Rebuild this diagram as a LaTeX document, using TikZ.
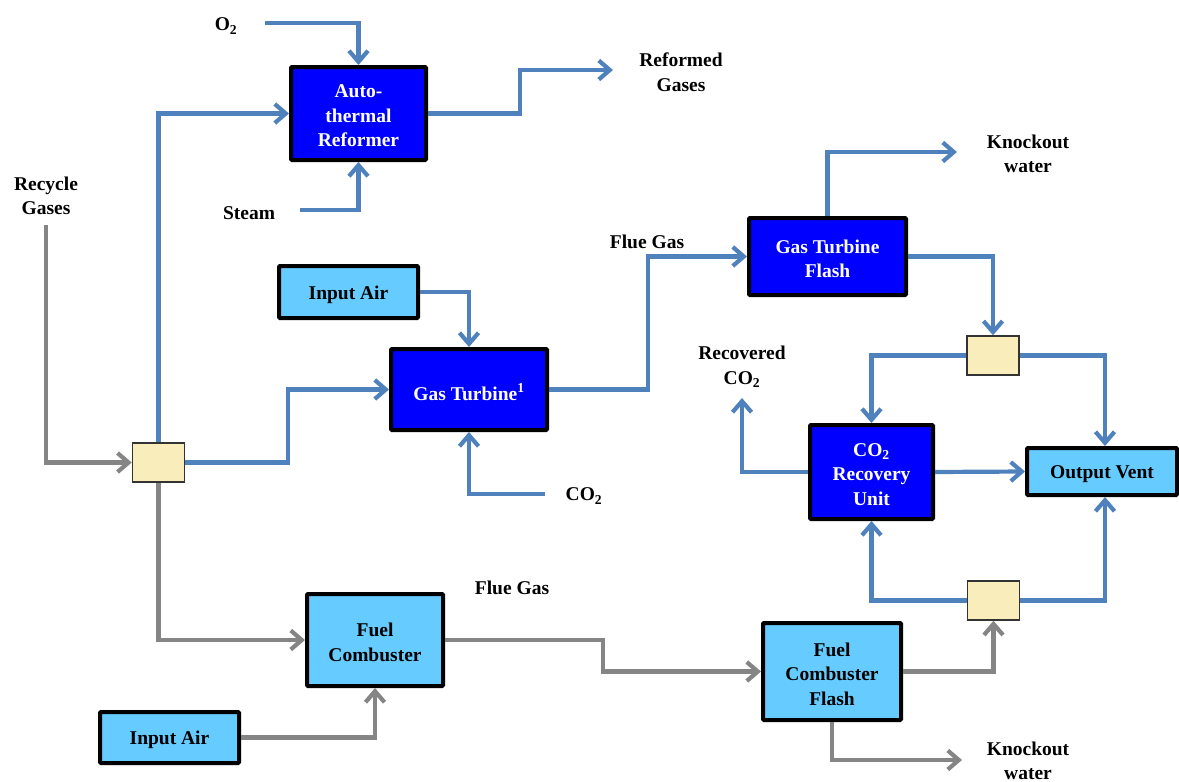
\documentclass[tikz,border=0pt]{standalone}
\usepackage{fontspec}
\setmainfont{Liberation Serif}
\usetikzlibrary{arrows.meta}
\definecolor{flowblue}{HTML}{4F81BD}
\definecolor{flowgray}{HTML}{858585}
\definecolor{unitdark}{HTML}{0000FF}
\definecolor{unitlight}{HTML}{66CCFF}
\definecolor{splitfill}{HTML}{F8EDBB}
\tikzset{
  x=1pt, y=-1pt,
  every node/.style={font=\fontsize{19.5}{24.5}\selectfont\bfseries, align=center, inner sep=0pt},
  darkunit/.style={draw=black, line width=4pt, fill=unitdark, rounded corners=1pt},
  lightunit/.style={draw=black, line width=4pt, fill=unitlight, rounded corners=1pt},
  darktext/.style={text=white, yshift=-2.5pt},
  lighttext/.style={text=black, yshift=-2.5pt},
  splitter/.style={draw=black!80, line width=1.5pt, fill=splitfill, minimum width=52pt, minimum height=39pt},
  tipbarb/.tip={Straight Barb[length=11pt, width=19pt]},
  blueflow/.style={draw=flowblue, line width=4.2pt, -tipbarb},
  grayflow/.style={draw=flowgray, line width=4.2pt, -tipbarb},
}
\begin{document}
\begin{tikzpicture}
\useasboundingbox (0,0) rectangle (1179,782);

% process units
\node[darkunit, minimum width=135pt, minimum height=93pt] (atr) at (358.5,113.5) {};
\node[darkunit, minimum width=156pt, minimum height=81pt] (gt) at (469,389.5) {};
\node[darkunit, minimum width=157pt, minimum height=77pt] (gtf) at (827.5,256.5) {};
\node[darkunit, minimum width=123pt, minimum height=94pt] (co2ru) at (871.5,472) {};
\node[lightunit, minimum width=150pt, minimum height=47pt] (ov) at (1102,471.5) {};
\node[lightunit, minimum width=136pt, minimum height=92pt] (fc) at (375,640) {};
\node[lightunit, minimum width=138pt, minimum height=97pt] (fcf) at (832,671.5) {};
\node[lightunit, minimum width=139pt, minimum height=52pt] (air1) at (348.5,292) {};
\node[lightunit, minimum width=139pt, minimum height=51pt] (air2) at (169.5,737.5) {};

% unit captions
\node[darktext] (atr-t) at (atr) {Auto-\\thermal\\Reformer};
\node[darktext] (gt-t) at (gt) {Gas Turbine\textsuperscript{1}};
\node[darktext] (gtf-t) at (gtf) {Gas Turbine\\Flash};
\node[darktext] (co2ru-t) at (co2ru) {CO\textsubscript{2}\\Recovery\\Unit};
\node[lighttext] (ov-t) at (ov) {Output Vent};
\node[lighttext] (fc-t) at (fc) {Fuel\\Combuster};
\node[lighttext] (fcf-t) at (fcf) {Fuel\\Combuster\\Flash};
\node[lighttext] (air1-t) at (air1) {Input Air};
\node[lighttext] (air2-t) at (air2) {Input Air};

% splitters
\node[splitter] (sp1) at (158.5,462.5) {};
\node[splitter] (sp2) at (993,355.5) {};
\node[splitter] (sp3) at (993.5,600.5) {};

% stream labels
\node (lo2) at (226,26) {O\textsubscript{2}};
\node (lsteam) at (249,213) {Steam};
\node (lref) at (681,72) {Reformed\\Gases};
\node (lrec) at (46,196) {Recycle\\Gases};
\node (lflue1) at (647,242) {Flue Gas};
\node (lko1) at (1028,154) {Knockout\\water};
\node (lrco2) at (742,367) {Recovered\\CO\textsubscript{2}};
\node (lco2) at (584,496) {CO\textsubscript{2}};
\node (lflue2) at (512,588) {Flue Gas};
\node (lko2) at (1028,761) {Knockout\\water};

% free ends of streams
\coordinate (o2in) at (265,23);
\coordinate (steamin) at (300,210);
\coordinate (refout) at (613,70);
\coordinate (recin) at (46,225);
\coordinate (co2in) at (545,494);
\coordinate (ko1out) at (957,152);
\coordinate (rco2out) at (742,398);
\coordinate (ko2out) at (962,760);

% reformer streams
\draw[blueflow] (o2in) -| (atr.north);
\draw[blueflow] (steamin) -| (atr.south);
\draw[blueflow] (atr.east) -- ++(92,0) |- (refout);

% recycle splitter
\draw[grayflow] (recin) |- (sp1.west);
\draw[blueflow] (sp1.north) |- (atr.west);
\draw[blueflow] (sp1.east) -- ++(103,0) |- (gt.west);
\draw[grayflow] (sp1.south) |- (fc.west);

% gas turbine train
\draw[blueflow] (air1.east) -| (gt.north);
\draw[blueflow] (co2in) -| (gt.south);
\draw[blueflow] (gt.east) -- ++(99,0) |- (gtf.west);
\draw[blueflow] (gtf.north) |- (ko1out);
\draw[blueflow] (gtf.east) -| (sp2.north);
\draw[blueflow] (sp2.west) -| (co2ru.north);
\draw[blueflow] (sp2.east) -| ([xshift=3pt]ov.north);

% CO2 recovery
\draw[blueflow] (co2ru.east) -- (ov.west);
\draw[blueflow] (co2ru.west) -| (rco2out);

% fuel combuster train
\draw[grayflow] (air2.east) -| (fc.south);
\draw[grayflow] (fc.east) -- ++(158,0) |- (fcf.west);
\draw[grayflow] (fcf.south) |- (ko2out);
\draw[grayflow] (fcf.east) -| (sp3.south);
\draw[blueflow] (sp3.west) -| (co2ru.south);
\draw[blueflow] (sp3.east) -| ([xshift=3pt]ov.south);
\end{tikzpicture}
\end{document}
